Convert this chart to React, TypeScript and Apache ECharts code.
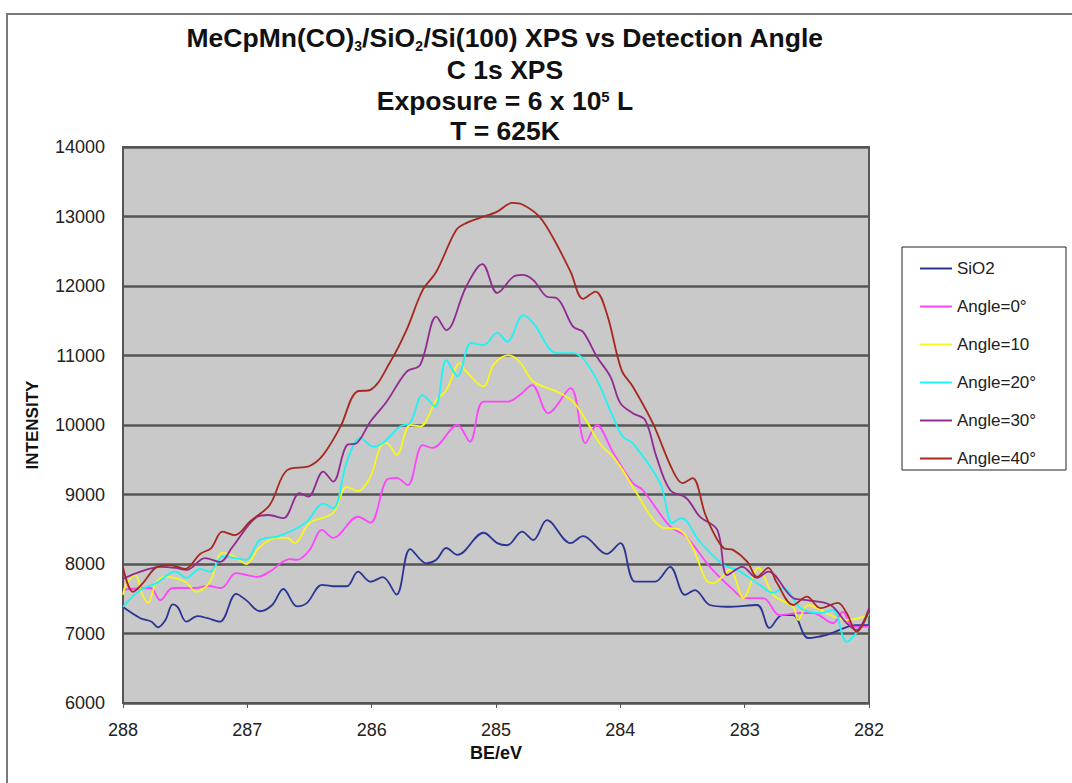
import React, { useEffect, useRef } from "react";
import * as echarts from "echarts";

const seriesNames = ["SiO2", "Angle=0°", "Angle=10", "Angle=20°", "Angle=30°", "Angle=40°"];
const seriesColors = ["#2a3593", "#ff44ff", "#f7f71e", "#1ef4f4", "#912a91", "#a6281f"];
const xTicks = [282, 283, 284, 285, 286, 287, 288];

const sio2BE = [288.0, 287.86, 287.77, 287.72, 287.66, 287.60, 287.56, 287.49, 287.40, 287.32, 287.22, 287.09, 287.01, 286.90, 286.80, 286.71, 286.60, 286.52, 286.40, 286.31, 286.20, 286.11, 286.01, 285.91, 285.80, 285.69, 285.56, 285.48, 285.40, 285.31, 285.10, 284.99, 284.91, 284.79, 284.70, 284.59, 284.40, 284.30, 284.11, 284.00, 283.88, 283.72, 283.60, 283.48, 283.40, 283.28, 283.14, 282.90, 282.80, 282.70, 282.61, 282.49, 282.34, 282.10, 282.0];
const sio2I = [7380, 7220, 7170, 7090, 7190, 7420, 7380, 7170, 7250, 7220, 7170, 7570, 7480, 7320, 7410, 7640, 7390, 7440, 7700, 7680, 7680, 7890, 7745, 7810, 7560, 8215, 8010, 8060, 8230, 8130, 8450, 8300, 8270, 8465, 8345, 8630, 8300, 8400, 8145, 8300, 7745, 7745, 7960, 7555, 7625, 7410, 7385, 7410, 7080, 7265, 7265, 6935, 6980, 7120, 7120];

const a0BE = [288.0, 287.94, 287.78, 287.70, 287.60, 287.41, 287.32, 287.21, 287.09, 286.92, 286.82, 286.66, 286.60, 286.50, 286.40, 286.31, 286.11, 286.01, 285.88, 285.80, 285.71, 285.59, 285.51, 285.31, 285.21, 285.10, 284.91, 284.81, 284.71, 284.58, 284.40, 284.28, 284.19, 284.06, 283.90, 283.82, 283.60, 283.47, 283.28, 283.09, 283.00, 282.85, 282.72, 282.55, 282.45, 282.29, 282.21, 282.13, 282.0];
const a0I = [7625, 7640, 7655, 7480, 7655, 7655, 7685, 7655, 7870, 7815, 7890, 8070, 8060, 8200, 8490, 8375, 8680, 8595, 9210, 9240, 9135, 9710, 9670, 10000, 9760, 10335, 10335, 10430, 10575, 10170, 10530, 9740, 10000, 9610, 9165, 9065, 8540, 8395, 7960, 7625, 7510, 7510, 7265, 7295, 7295, 7150, 7310, 7100, 7100];

const a10BE = [288.0, 287.97, 287.90, 287.85, 287.80, 287.73, 287.65, 287.50, 287.41, 287.30, 287.20, 287.10, 287.01, 286.90, 286.76, 286.68, 286.62, 286.50, 286.31, 286.20, 286.11, 286.01, 285.93, 285.88, 285.80, 285.69, 285.61, 285.48, 285.40, 285.29, 285.25, 285.10, 285.02, 284.90, 284.81, 284.70, 284.51, 284.38, 284.27, 284.16, 284.06, 283.98, 283.87, 283.68, 283.52, 283.42, 283.31, 283.25, 283.12, 283.01, 282.89, 282.77, 282.61, 282.57, 282.49, 282.31, 282.18, 282.0];
const a10I = [7555, 7725, 7840, 7585, 7440, 7745, 7815, 7745, 7600, 7745, 8160, 8105, 8000, 8245, 8375, 8375, 8300, 8590, 8735, 9110, 9050, 9255, 9690, 9740, 9570, 10000, 9980, 10360, 10500, 10890, 10790, 10555, 10865, 11005, 10910, 10625, 10480, 10335, 10050, 9720, 9545, 9350, 9020, 8540, 8490, 8245, 7770, 7725, 7915, 7510, 7945, 7555, 7380, 7195, 7410, 7265, 7195, 7265];

const a20BE = [288.0, 287.86, 287.73, 287.58, 287.49, 287.38, 287.30, 287.20, 287.10, 287.01, 286.90, 286.76, 286.63, 286.52, 286.39, 286.31, 286.20, 286.09, 285.99, 285.91, 285.77, 285.69, 285.59, 285.49, 285.40, 285.31, 285.20, 285.10, 284.99, 284.91, 284.78, 284.70, 284.51, 284.38, 284.22, 284.06, 283.98, 283.90, 283.68, 283.58, 283.51, 283.36, 283.17, 283.06, 282.88, 282.77, 282.69, 282.55, 282.39, 282.29, 282.18, 282.07, 282.0];
const a20I = [7385, 7625, 7725, 7890, 7800, 7930, 7890, 8105, 8085, 8060, 8345, 8395, 8490, 8610, 8870, 8800, 9470, 9815, 9690, 9740, 9980, 10030, 10430, 10265, 10935, 10700, 11180, 11150, 11325, 11200, 11580, 11465, 11035, 11035, 10750, 10120, 9830, 9740, 9165, 8590, 8660, 8320, 7985, 7915, 7700, 7585, 7655, 7365, 7295, 7340, 6880, 7080, 7295];

const a30BE = [288.0, 287.86, 287.70, 287.58, 287.49, 287.34, 287.22, 287.12, 286.92, 286.83, 286.71, 286.58, 286.51, 286.39, 286.31, 286.20, 286.12, 286.01, 285.88, 285.72, 285.61, 285.48, 285.40, 285.24, 285.11, 284.99, 284.86, 284.79, 284.70, 284.59, 284.51, 284.38, 284.30, 284.19, 284.08, 284.00, 283.90, 283.80, 283.71, 283.60, 283.47, 283.36, 283.22, 283.14, 283.02, 282.90, 282.81, 282.61, 282.50, 282.31, 282.18, 282.10, 282.0];
const a30I = [7785, 7890, 7960, 7945, 7915, 8085, 8030, 8245, 8680, 8705, 8660, 9020, 8970, 9330, 9185, 9710, 9740, 10050, 10335, 10765, 10865, 11560, 11365, 11990, 12315, 11900, 12135, 12160, 12085, 11845, 11825, 11415, 11340, 10985, 10695, 10315, 10170, 10070, 9545, 9065, 8950, 8680, 8490, 7840, 7960, 7800, 7890, 7510, 7480, 7410, 7150, 7050, 7365];

const a40BE = [288.0, 287.92, 287.84, 287.73, 287.62, 287.50, 287.38, 287.29, 287.20, 287.10, 286.98, 286.82, 286.68, 286.50, 286.39, 286.25, 286.12, 286.01, 285.85, 285.72, 285.59, 285.48, 285.32, 285.24, 285.13, 284.99, 284.87, 284.78, 284.65, 284.54, 284.40, 284.30, 284.20, 284.11, 283.99, 283.90, 283.74, 283.58, 283.50, 283.42, 283.31, 283.17, 283.09, 282.98, 282.90, 282.81, 282.74, 282.61, 282.50, 282.39, 282.25, 282.18, 282.10, 282.0];
const a40I = [7955, 7600, 7725, 7955, 7985, 7930, 8145, 8230, 8465, 8415, 8610, 8850, 9350, 9410, 9570, 9980, 10480, 10505, 10910, 11365, 11940, 12205, 12805, 12905, 12980, 13070, 13195, 13165, 12995, 12690, 12205, 11815, 11920, 11610, 10790, 10555, 10030, 9350, 9165, 9235, 8680, 8230, 8200, 8035, 7815, 7945, 7725, 7410, 7530, 7365, 7440, 7295, 7025, 7325];

const allBE = [sio2BE, a0BE, a10BE, a20BE, a30BE, a40BE];
const allI = [sio2I, a0I, a10I, a20I, a30I, a40I];

const FONT = "'Liberation Sans', Arial, sans-serif";

export default function App() {
  const ref = useRef<HTMLDivElement>(null);
  useEffect(() => {
    if (!ref.current) return;
    const chart = echarts.init(ref.current, undefined, { renderer: "svg" });
    const titleBase = { fontFamily: FONT, fontWeight: "bold", fontSize: 26.5, fill: "#111" };
    chart.setOption({
      animation: false,
      backgroundColor: "#ffffff",
      textStyle: { fontFamily: FONT },
      graphic: [
        { type: "line", shape: { x1: 6, y1: 14, x2: 1072, y2: 14 }, style: { stroke: "#7a7a7a", lineWidth: 2 } },
        { type: "line", shape: { x1: 7, y1: 14, x2: 7, y2: 783 }, style: { stroke: "#7a7a7a", lineWidth: 2 } },
        {
          type: "text", x: 505, y: 38,
          style: {
            text: "{a|MeCpMn(CO)}{s|3}{a|/SiO}{s|2}{a|/Si(100) XPS vs Detection Angle}",
            align: "center", verticalAlign: "middle",
            rich: {
              a: { ...titleBase, lineHeight: 30 },
              s: { ...titleBase, fontSize: 14, lineHeight: 30, verticalAlign: "bottom", padding: [12, 0, 0, 0] },
            },
          },
        },
        { type: "text", x: 505, y: 70, style: { ...titleBase, text: "C 1s XPS", align: "center", verticalAlign: "middle" } },
        {
          type: "text", x: 505, y: 101,
          style: {
            text: "{a|Exposure = 6 x 10}{p|5}{a| L}",
            align: "center", verticalAlign: "middle",
            rich: {
              a: { ...titleBase, lineHeight: 30 },
              p: { ...titleBase, fontSize: 15, lineHeight: 30, verticalAlign: "top", padding: [3, 0, 6, 0] },
            },
          },
        },
        { type: "text", x: 505, y: 131, style: { ...titleBase, text: "T = 625K", align: "center", verticalAlign: "middle" } },
        {
          type: "rect", shape: { x: 902, y: 247, width: 164, height: 223 },
          style: { fill: "#ffffff", stroke: "#222", lineWidth: 1 }, z: -1,
        },
      ],
      legend: {
        orient: "vertical",
        left: 919,
        top: 260,
        padding: 0,
        itemWidth: 32,
        itemHeight: 14,
        itemGap: 21,
        data: seriesNames,
        itemStyle: { opacity: 0 },
        lineStyle: { width: 2 },
        textStyle: { fontSize: 17, color: "#222", fontFamily: FONT, lineHeight: 16 },
      },
      grid: {
        left: 123, right: 203, top: 147, bottom: 80,
        show: true, backgroundColor: "#c9c9c9", borderColor: "#5a5a5a", borderWidth: 2,
      },
      xAxis: {
        type: "value",
        min: 282, max: 288, interval: 1, inverse: true,
        name: "BE/eV", nameLocation: "middle", nameGap: 40,
        nameTextStyle: { fontSize: 18, fontWeight: "bold", color: "#111", fontFamily: FONT },
        axisLine: { show: true, lineStyle: { color: "#555", width: 2 } },
        axisTick: { show: true, length: 5, lineStyle: { color: "#555" } },
        axisLabel: { fontSize: 18, color: "#222", margin: 18, formatter: (v: number) => (xTicks.includes(v) ? String(v) : "") },
        splitLine: { show: false },
      },
      yAxis: {
        type: "value",
        min: 6000, max: 14000, interval: 1000,
        name: "INTENSITY", nameLocation: "middle", nameGap: 82, nameRotate: 90,
        nameTextStyle: { fontSize: 17, fontWeight: "bold", color: "#111", fontFamily: FONT },
        axisLine: { show: true, lineStyle: { color: "#555", width: 2 } },
        axisTick: { show: false },
        axisLabel: { fontSize: 18, color: "#222", margin: 18, formatter: (v: number) => String(v) },
        splitLine: { show: true, lineStyle: { color: "#555", width: 2.5 } },
      },
      series: seriesNames.map((name, k) => ({
        name,
        type: "line",
        symbol: "none",
        smooth: 0.35,
        color: seriesColors[k],
        lineStyle: { color: seriesColors[k], width: 1.8 },
        data: allBE[k].map((b, i) => [b, allI[k][i]]),
      })),
    });
    return () => chart.dispose();
  }, []);
  return <div ref={ref} style={{ width: 1072, height: 783, position: "absolute", left: 0, top: 0 }} />;
}
